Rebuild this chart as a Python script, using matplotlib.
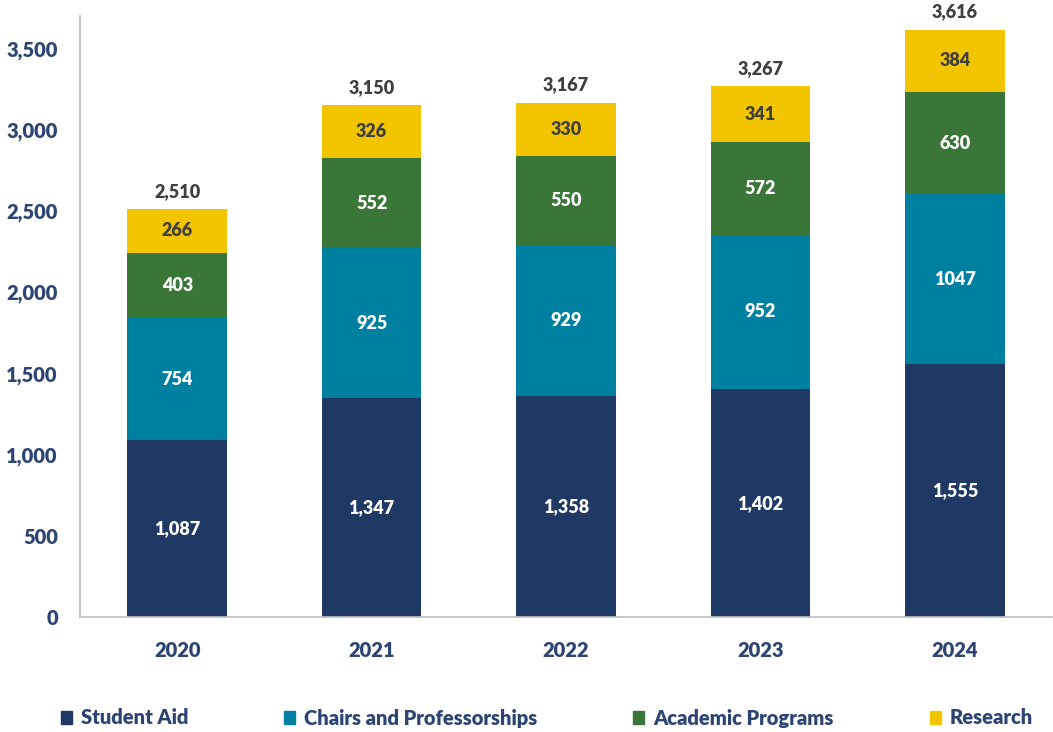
import matplotlib
matplotlib.use("Agg")
import matplotlib.pyplot as plt
from matplotlib.patches import Patch
import numpy as np

years = ["2020", "2021", "2022", "2023", "2024"]
series_names = ["Student Aid", "Chairs and Professorships", "Academic Programs", "Research"]
student_aid = [1087, 1347, 1358, 1402, 1555]
chairs = [754, 925, 929, 952, 1047]
academic = [403, 552, 550, 572, 630]
research = [266, 326, 330, 341, 384]
totals = [2510, 3150, 3167, 3267, 3616]

colors = ["#203864", "#0080A0", "#3B7639", "#F2C500"]
label_colors = ["white", "white", "white", "#404040"]
label_fmt = ["{:,}", "{}", "{}", "{}"]

plt.rcParams['font.family'] = ['Lato', 'DejaVu Sans']
W = "heavy"

fig = plt.figure(figsize=(10.53, 7.32), dpi=100)
ax = fig.add_axes([80/1053, 115/732, 972/1053, (617-16)/732])

x = np.arange(len(years))
width = 0.513
bottom = np.zeros(len(years))
data = [student_aid, chairs, academic, research]
for vals, col, lc, fmt in zip(data, colors, label_colors, label_fmt):
    vals = np.array(vals, dtype=float)
    ax.bar(x, vals, width, bottom=bottom, color=col, zorder=2)
    for xi, b, v in zip(x, bottom, vals):
        ax.text(xi, b + v / 2, fmt.format(int(v)), ha="center", va="center",
                color=lc, fontsize=13, fontweight=W)
    bottom += vals

for xi, t in zip(x, totals):
    ax.annotate(f"{t:,}", (xi, t), xytext=(0, 13), textcoords="offset points",
                ha="center", va="center", color="#404040", fontsize=13, fontweight=W,
                annotation_clip=False)

ax.set_xlim(-0.5, 4.5)
ax.set_ylim(0, 3700)
ax.set_yticks(np.arange(0, 3501, 500))
ax.set_yticklabels([f"{v:,}" for v in range(0, 3501, 500)])
ax.set_xticks(x)
ax.set_xticklabels(years)
for lab in ax.get_yticklabels() + ax.get_xticklabels():
    lab.set_color("#2E4473")
    lab.set_fontweight(W)
    lab.set_fontsize(14.5)
ax.tick_params(axis="y", length=0, pad=16)
ax.tick_params(axis="x", length=0, pad=17)
for s in ["top", "right"]:
    ax.spines[s].set_visible(False)
for s in ["left", "bottom"]:
    ax.spines[s].set_color("#BFBFBF")
    ax.spines[s].set_linewidth(1.2)

handles = [Patch(facecolor=c, edgecolor=c) for c in colors]
leg = fig.legend(handles, series_names, loc="center", bbox_to_anchor=(547/1053, (732-718)/732),
                 ncol=4, frameon=False, fontsize=14.5, handlelength=0.55, handleheight=0.6,
                 handletextpad=0.45, columnspacing=4.75)
for t in leg.get_texts():
    t.set_color("#2E4473")
    t.set_fontweight(W)

fig.savefig("out.png", dpi=100)
